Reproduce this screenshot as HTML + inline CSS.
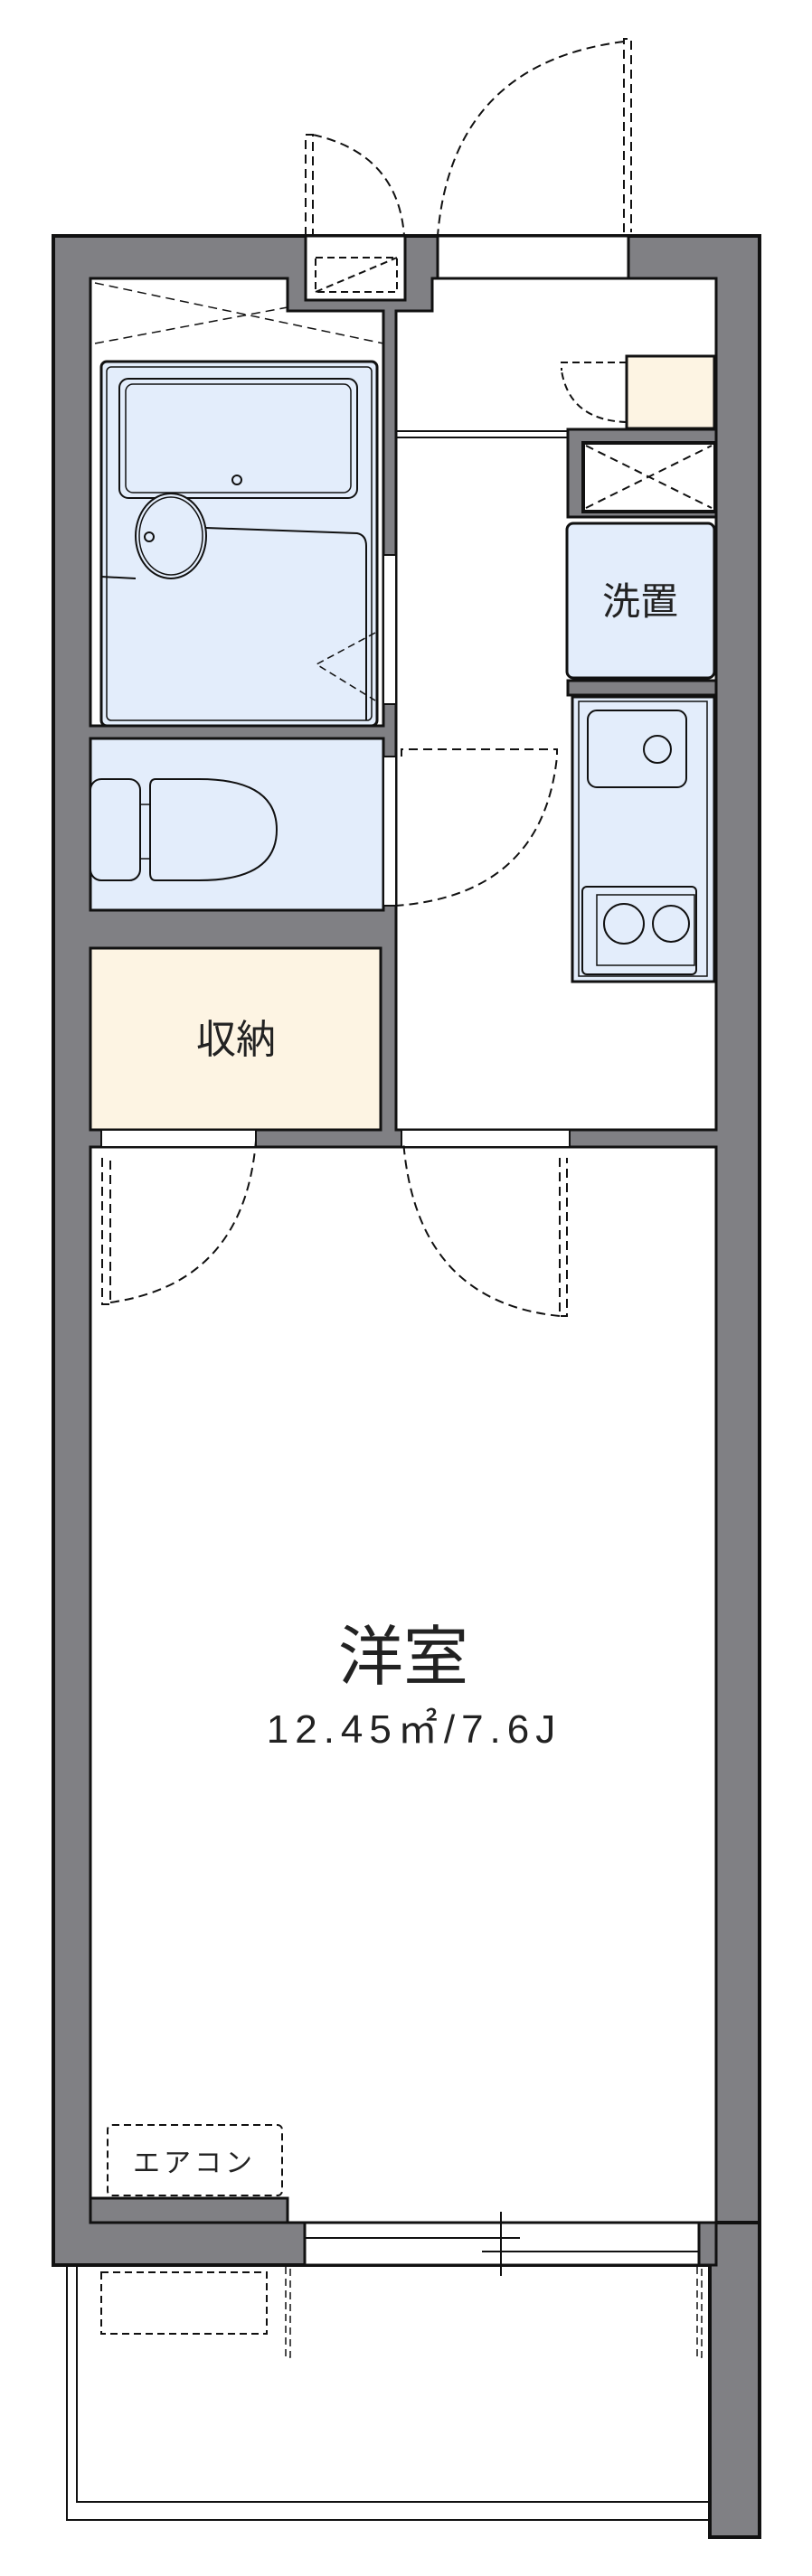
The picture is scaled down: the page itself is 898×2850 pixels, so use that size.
<!DOCTYPE html>
<html><head><meta charset="utf-8"><style>
html,body{margin:0;padding:0;background:#fff;}
svg{display:block;}
text{font-family:"Liberation Sans","Noto Sans CJK JP",sans-serif;fill:#222;stroke:none;font-weight:normal;}
</style></head><body>
<svg width="898" height="2850" viewBox="0 0 898 2850" xmlns="http://www.w3.org/2000/svg">
<g stroke="#111" stroke-width="3" fill="none">
<rect x="59" y="261" width="781" height="2245" fill="#808084" stroke-width="4"/>
<rect x="785" y="2459" width="55" height="348" fill="#808084" stroke-width="4"/>
<rect x="338" y="261" width="110" height="71" fill="#fff"/>
<rect x="349" y="285" width="90" height="38" stroke-dasharray="8,5" stroke-width="2"/>
<line x1="349" y1="323" x2="439" y2="285" stroke-dasharray="8,5" stroke-width="2"/>
<rect x="484" y="261" width="211" height="47" fill="#fff"/>
<path d="M100 308 H318 V344 H424 V803 H100 Z" fill="#fff"/>
<path d="M105 313 L424 380 M105 380 L318 340" stroke-dasharray="10,6" stroke-width="1.5"/>
<rect x="112" y="400" width="305" height="403" rx="6" fill="#e3edfb"/>
<rect x="118" y="406" width="293" height="391" rx="5" stroke-width="1.5"/>
<rect x="132" y="419" width="263" height="132" rx="10" fill="#e3edfb" stroke-width="2"/>
<rect x="139" y="425" width="249" height="120" rx="8" stroke-width="1.5"/>
<circle cx="262" cy="531" r="5" stroke-width="2"/>
<ellipse cx="189" cy="593" rx="39" ry="47" fill="#e3edfb" stroke-width="2"/>
<ellipse cx="189" cy="593" rx="35" ry="43" stroke-width="1.5"/>
<circle cx="165" cy="594" r="5" stroke-width="2"/>
<path d="M228 584 L395 590 Q405 592 405 604 V797 M112 638 L150 640" stroke-width="2"/>
<path d="M415 700 L350 735 L415 775" stroke-dasharray="8,5" stroke-width="1.5"/>
<rect x="100" y="817" width="324" height="190" fill="#e3edfb"/>
<rect x="100" y="862" width="55" height="112" rx="12" fill="#e3edfb" stroke-width="2"/>
<path d="M172 862 Q166 862 166 870 V966 Q166 974 172 974 H220 Q306 974 306 918 Q306 862 220 862 Z" fill="#e3edfb" stroke-width="2"/>
<line x1="155" y1="890" x2="166" y2="890" stroke-width="1.5"/>
<line x1="155" y1="950" x2="166" y2="950" stroke-width="1.5"/>
<rect x="100" y="1049" width="321" height="201" fill="#fdf4e3"/>
<text x="261" y="1165" font-size="44" text-anchor="middle">収納</text>
<path d="M438 344 H478 V308 H792 V1250 H438 Z" fill="#fff"/>
<rect x="424" y="614" width="14" height="165" fill="#fff" stroke-width="2"/>
<rect x="424" y="837" width="14" height="165" fill="#fff" stroke-width="2"/>
<line x1="438" y1="477" x2="628" y2="477" stroke-width="2"/>
<line x1="438" y1="484" x2="628" y2="484" stroke-width="2"/>
<rect x="693" y="394" width="97" height="80" fill="#fdf4e3"/>
<path d="M693 401 H621 V410 M693 467 Q630 465 621 410" stroke-dasharray="8,5" stroke-width="2"/>
<rect x="628" y="475" width="164" height="97" fill="#808084" stroke-width="3"/>
<rect x="645" y="490" width="146" height="76" fill="#fff" stroke-width="4"/>
<path d="M648 493 L787 562 M648 562 L787 493" stroke-dasharray="9,6" stroke-width="2"/>
<rect x="627" y="579" width="163" height="171" rx="7" fill="#e3edfb"/>
<text x="708" y="680" font-size="42" text-anchor="middle">洗置</text>
<rect x="628" y="753" width="164" height="16" fill="#808084"/>
<rect x="633" y="771" width="157" height="315" fill="#e3edfb"/>
<rect x="640" y="776" width="142" height="304" stroke-width="1.5"/>
<rect x="650" y="786" width="109" height="85" rx="10" fill="#e3edfb" stroke-width="2"/>
<ellipse cx="727" cy="829" rx="15" ry="15" stroke-width="2"/>
<rect x="644" y="981" width="126" height="97" rx="5" stroke-width="2"/>
<rect x="660" y="990" width="108" height="78" stroke-width="1.5"/>
<circle cx="690" cy="1022" r="22" stroke-width="2"/>
<circle cx="742" cy="1022" r="20" stroke-width="2"/>
<path d="M444 837 V829 H616 V837 Q600 990 438 1002" stroke-dasharray="10,6" stroke-width="2"/>
<rect x="100" y="1269" width="692" height="1190" fill="#fff"/>
<rect x="100" y="2432" width="218" height="27" fill="#808084"/>
<rect x="112" y="1250" width="171" height="19" fill="#fff" stroke-width="2"/>
<rect x="444" y="1250" width="186" height="19" fill="#fff" stroke-width="2"/>
<path d="M113 1281 V1443 H122 V1281 M122 1441 Q270 1420 283 1262" stroke-dasharray="10,6" stroke-width="2"/>
<path d="M619 1281 V1456 H627 V1281 M619 1456 Q460 1440 446 1262" stroke-dasharray="10,6" stroke-width="2"/>
<text x="446" y="1858" font-size="72" text-anchor="middle">洋室</text>
<text x="458" y="1928" font-size="44" text-anchor="middle" letter-spacing="7">12.45㎡/7.6J</text>
<rect x="119" y="2351" width="193" height="78" rx="5" stroke-dasharray="8,5" stroke-width="2"/>
<text x="215" y="2403" font-size="30" text-anchor="middle" letter-spacing="4">エアコン</text>
<rect x="337" y="2459" width="436" height="47" fill="#fff"/>
<line x1="337" y1="2476" x2="575" y2="2476" stroke-width="2"/>
<line x1="533" y1="2491" x2="773" y2="2491" stroke-width="2"/>
<line x1="554" y1="2447" x2="554" y2="2518" stroke-width="2"/>
<rect x="773" y="2459" width="19" height="47" fill="#808084"/>
<path d="M74 2506 V2788 H785 M85 2506 V2768 H785" stroke-width="2"/>
<rect x="112" y="2514" width="183" height="68" stroke-dasharray="8,5" stroke-width="2"/>
<path d="M316 2508 V2608 H321 V2508 M771 2508 V2608 H776 V2508" stroke-dasharray="8,5" stroke-width="1.5"/>
<path d="M338 261 V149 H346 V261 M346 149 Q440 170 447 261" stroke-dasharray="10,6" stroke-width="2"/>
<path d="M690 257 V43 H698 V257 M690 46 Q500 70 484 261" stroke-dasharray="10,6" stroke-width="2"/>
</g>
</svg>
</body></html>
